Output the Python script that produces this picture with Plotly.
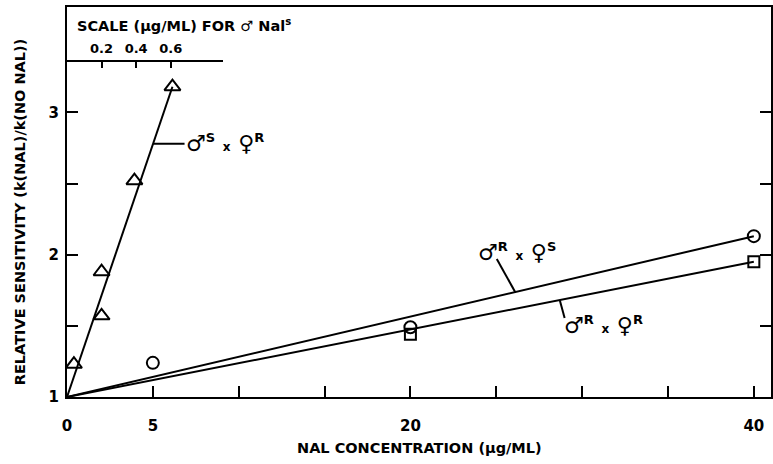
import plotly.graph_objects as go

# ---- data ----
# male Nal^S x female Nal^R, plotted on the top "scale for male Nal^s" axis (ug/ML)
tri_x = [0.04, 0.2, 0.2, 0.39, 0.61]
tri_y = [1.23, 1.57, 1.88, 2.52, 3.18]
tri_fit_x = [0.0, 0.61]
tri_fit_y = [1.0, 3.18]

# male Nal^R x female Nal^S
circ_x = [5, 20, 40]
circ_y = [1.24, 1.49, 2.13]
circ_fit_x = [0, 40]
circ_fit_y = [1.0, 2.13]

# male Nal^R x female Nal^R
sq_x = [20, 40]
sq_y = [1.44, 1.95]
sq_fit_x = [0, 40]
sq_fit_y = [1.0, 1.95]

x_tickvals = [0, 5, 20, 40]
x_ticktext = ["0", "5", "20", "40"]
x_minor_vals = [10, 15, 25, 30, 35]
y_tickvals = [1, 2, 3]
y_ticktext = ["1", "2", "3"]
y_minor_vals = [1.5, 2.5]
top_tickvals = [0.2, 0.4, 0.6]
top_ticktext = ["0.2", "0.4", "0.6"]

FONT = "DejaVu Sans"
BLACK = "#000000"

fig = go.Figure()

line_style = dict(color=BLACK, width=2)

fig.add_trace(go.Scatter(x=circ_fit_x, y=circ_fit_y, mode="lines", line=line_style,
                         showlegend=False, hoverinfo="skip"))
fig.add_trace(go.Scatter(x=sq_fit_x, y=sq_fit_y, mode="lines", line=line_style,
                         showlegend=False, hoverinfo="skip"))
fig.add_trace(go.Scatter(x=circ_x, y=circ_y, mode="markers",
                         marker=dict(symbol="circle-open", size=12, color=BLACK,
                                     line=dict(color=BLACK, width=2)),
                         showlegend=False))
fig.add_trace(go.Scatter(x=sq_x, y=sq_y, mode="markers",
                         marker=dict(symbol="square-open", size=11, color=BLACK,
                                     line=dict(color=BLACK, width=2)),
                         showlegend=False))
fig.add_trace(go.Scatter(x=tri_fit_x, y=tri_fit_y, mode="lines", line=line_style,
                         xaxis="x2", yaxis="y", showlegend=False, hoverinfo="skip"))
fig.add_trace(go.Scatter(x=tri_x, y=tri_y, mode="markers", xaxis="x2", yaxis="y",
                         marker=dict(symbol="triangle-up-open", size=14,
                                     color=BLACK, line=dict(color=BLACK, width=2)),
                         showlegend=False))

tickfont = dict(family=FONT, size=15, color=BLACK, weight="bold")

fig.update_layout(
    width=773, height=464, autosize=False,
    margin=dict(l=67, r=0, t=7, b=67),
    paper_bgcolor="white", plot_bgcolor="rgba(0,0,0,0)",
    xaxis=dict(range=[0, 41], showgrid=False, zeroline=False,
               showline=True, linewidth=2, linecolor=BLACK, mirror=True,
               ticks="inside", ticklen=11, tickwidth=2, tickcolor=BLACK,
               tickvals=x_tickvals, ticktext=x_ticktext, tickfont=tickfont,
               ticklabelstandoff=14,
               minor=dict(tickmode="array", tickvals=x_minor_vals, ticks="inside",
                          ticklen=11, tickwidth=2, tickcolor=BLACK, showgrid=False)),
    xaxis2=dict(range=[0, 0.9], domain=[0, 0.221], anchor="free",
                position=0.8615, side="top", showgrid=False, zeroline=False,
                showline=True, linewidth=2, linecolor=BLACK,
                ticks="inside", ticklen=6, tickwidth=2, tickcolor=BLACK,
                tickvals=top_tickvals, ticktext=top_ticktext,
                tickfont=dict(family=FONT, size=13, color=BLACK, weight="bold"),
                ticklabelstandoff=2),
    yaxis=dict(range=[1, 3.74], showgrid=False, zeroline=False,
               showline=True, linewidth=2, linecolor=BLACK, mirror="ticks",
               ticks="inside", ticklen=11, tickwidth=2, tickcolor=BLACK,
               tickvals=y_tickvals, ticktext=y_ticktext, tickfont=tickfont,
               ticklabelstandoff=3,
               minor=dict(tickmode="array", tickvals=y_minor_vals, ticks="inside",
                          ticklen=11, tickwidth=2, tickcolor=BLACK, showgrid=False)),
)

title_font = dict(family=FONT, size=14.5, color=BLACK, weight="bold")
sym_font = dict(family=FONT, size=22, color=BLACK, weight="bold")
X_SMALL = "<span style='font-size:12px'>x</span>"
SUP = "<sup><span style='font-size:13px'>{}</span></sup>"

annotations = [
    dict(text="NAL CONCENTRATION (μg/ML)", xref="paper", yref="paper",
         x=0.5, y=-0.131, xanchor="center", yanchor="middle",
         showarrow=False, font=title_font),
    dict(text="RELATIVE SENSITIVITY (k(NAL)/k(NO NAL))", xref="paper", yref="paper",
         x=-0.0666, y=0.474, xanchor="center", yanchor="middle", textangle=-90,
         showarrow=False, font=title_font),
    dict(text="SCALE (μg/ML) FOR ♂ Nal<sup>s</sup>", xref="paper", yref="paper",
         x=0.0113, y=0.954, xanchor="left", yanchor="middle",
         showarrow=False, font=title_font),
    dict(text="♂" + SUP.format("S") + " " + X_SMALL + " ♀" + SUP.format("R"),
         xref="paper", yref="paper", x=0.2238, y=0.651,
         xanchor="center", yanchor="middle", showarrow=False, font=sym_font),
    dict(text="♂" + SUP.format("R") + " " + X_SMALL + " ♀" + SUP.format("S"),
         xref="paper", yref="paper", x=0.639, y=0.372,
         xanchor="center", yanchor="middle", showarrow=False, font=sym_font),
    dict(text="♂" + SUP.format("R") + " " + X_SMALL + " ♀" + SUP.format("R"),
         xref="paper", yref="paper", x=0.762, y=0.185,
         xanchor="center", yanchor="middle", showarrow=False, font=sym_font),
]
fig.update_layout(annotations=annotations)

leader = dict(type="line", line=dict(color=BLACK, width=2))
fig.update_layout(shapes=[
    dict(leader, xref="x2", yref="y", x0=0.498, y0=2.78, x1=0.68, y1=2.78),
    dict(leader, xref="x", yref="y", x0=26.1, y0=1.737, x1=25.03, y1=1.97),
    dict(leader, xref="x", yref="y", x0=28.7, y0=1.68, x1=28.98, y1=1.555),
])

fig.write_html("out.html",
               config={"displayModeBar": False},
               post_script="document.body.style.margin='0';"
                           "document.body.style.overflow='hidden';")
